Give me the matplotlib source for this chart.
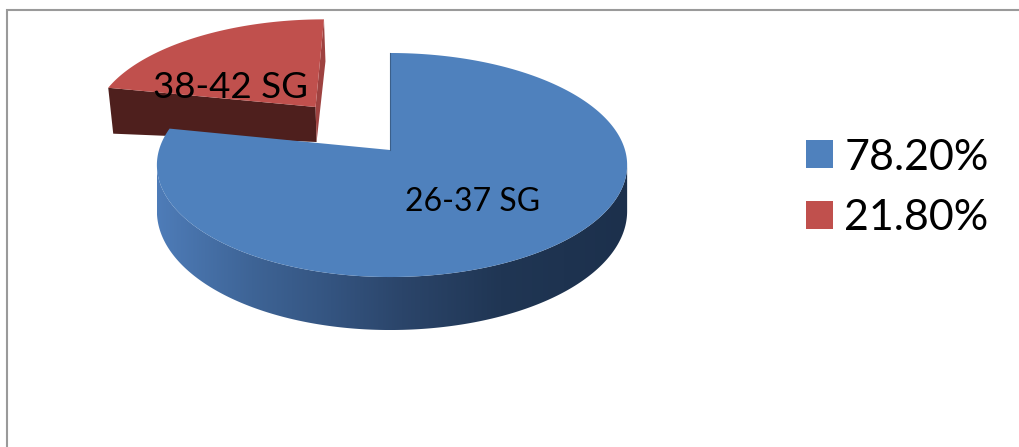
import numpy as np
import matplotlib
matplotlib.use("Agg")
import matplotlib.pyplot as plt
from matplotlib.patches import Polygon, Patch
from matplotlib.colors import LinearSegmentedColormap

plt.rcParams['font.family'] = ['Lato', 'DejaVu Sans']

# data
shares = [78.2, 21.8]
slice_labels = ['26-37 SG', '38-42 SG']
legend_labels = ['78.20%', '21.80%']
colors = ['#4F81BD', '#C0504D']

W, H = 1020, 447
fig = plt.figure(figsize=(W / 100, H / 100), dpi=100)
ax = fig.add_axes([0, 0, 1, 1])
ax.axis('off')

# frame (left and top only are visible)
ax.plot([7.5, 7.5, W], [H, 10, 10], color='#9a9a9a', lw=1.5, solid_joinstyle='miter')

# perspective projection of the unit pie disc to the page
CX, CY, R_LEFT, R_RIGHT, A, C = 390, 150, 231, 235, 110, 0.134


def project(u, v):
    d = 1 + C * v
    return CX + np.where(u < 0, R_LEFT, R_RIGHT) * u / d, CY - A * v / d


def arc(a0, a1, n=200):
    t = np.radians(np.linspace(a0, a1, n))
    return np.sin(t), np.cos(t)


sweep = [s / sum(shares) * 360 for s in shares]

# ---- exploded red slice ----
du, dv = -0.34, 0.4125
u, v = arc(sweep[0], 360)
rx, ry = project(u + du, v + dv)
ax_apex, ay_apex = project(np.array(du), np.array(dv))
ax_apex, ay_apex = float(ax_apex), float(ay_apex)


def red_depth(x):
    return 35 + 11 * (ax_apex - x) / 209


front_top = np.array([[rx[0], ry[0]], [ax_apex, ay_apex]])
front_bot = np.array([[rx[0] + 5, ry[0] + red_depth(rx[0])],
                      [ax_apex + 1, ay_apex + red_depth(ax_apex)]])
ax.add_patch(Polygon(np.vstack([front_top, front_bot[::-1]]), closed=True,
                     fc='#4E1F1D', ec='none', zorder=2))
# thin side wall seen on the right edge of the red slice
ax.add_patch(Polygon([[rx[-1], ry[-1]], [rx[-1] + 1.5, ry[-1] + 42],
                      [ax_apex + 1, ay_apex + red_depth(ax_apex)], [ax_apex, ay_apex]],
                     closed=True, fc='#9E4240', ec='none', zorder=2))
ax.add_patch(Polygon(np.column_stack([np.r_[ax_apex, rx], np.r_[ay_apex, ry]]),
                     closed=True, fc=colors[1], ec='none', zorder=3))

# ---- blue slice: gradient side wall, then the top ----
grad_stops = [(0.0, (78 / 255, 124 / 255, 184 / 255)),
              (0.2, (62 / 255, 100 / 255, 150 / 255)),
              (0.37, (52 / 255, 84 / 255, 128 / 255)),
              (0.52, (43 / 255, 69 / 255, 106 / 255)),
              (0.73, (32 / 255, 54 / 255, 84 / 255)),
              (1.0, (28 / 255, 48 / 255, 76 / 255))]
cmap = LinearSegmentedColormap.from_list('side', grad_stops)

u, v = arc(0, sweep[0], 600)
bx, by = project(u, v)
depth = 45 + 8 * np.clip(-v, 0, 1)
i0, i1 = int(np.argmax(bx)), int(np.argmin(bx))  # silhouette extremes
wall = np.vstack([np.column_stack([bx[i0:i1 + 1], by[i0:i1 + 1]]),
                  np.column_stack([bx[i0:i1 + 1], (by + depth)[i0:i1 + 1]])[::-1]])
wall_patch = Polygon(wall, closed=True, fc='none', ec='none', transform=ax.transData)
ax.add_patch(wall_patch)
im = ax.imshow(np.linspace(0, 1, 256)[None, :], cmap=cmap, aspect='auto',
               extent=(bx.min(), bx.max(), (by + depth).max(), by.min()),
               zorder=4, interpolation='bilinear')
im.set_clip_path(wall_patch)

ax.add_patch(Polygon(np.column_stack([np.r_[CX, bx], np.r_[CY, by]]), closed=True,
                     fc=colors[0], ec='none', zorder=5))
ax.plot([CX, CX], [by[0], CY], color='#3b5f8a', lw=0.8, zorder=6)

ax.set_xlim(0, W)
ax.set_ylim(H, 0)

# ---- labels ----
ax.text(473, 202, slice_labels[0], fontsize=23, color='black', ha='center', va='center', zorder=8)
ax.text(231, 87, slice_labels[1], fontsize=26.5, color='black', ha='center', va='center', zorder=8)

# ---- legend ----
handles = [Patch(fc=c, ec='none') for c in colors]
ax.legend(handles, legend_labels, loc='upper left', bbox_to_anchor=(806, 138.5),
          bbox_transform=ax.transData, frameon=False, fontsize=31,
          handlelength=0.63, handleheight=0.63, handletextpad=0.26,
          labelspacing=0.53, borderpad=0, borderaxespad=0)

fig.savefig('out.png', dpi=100)
